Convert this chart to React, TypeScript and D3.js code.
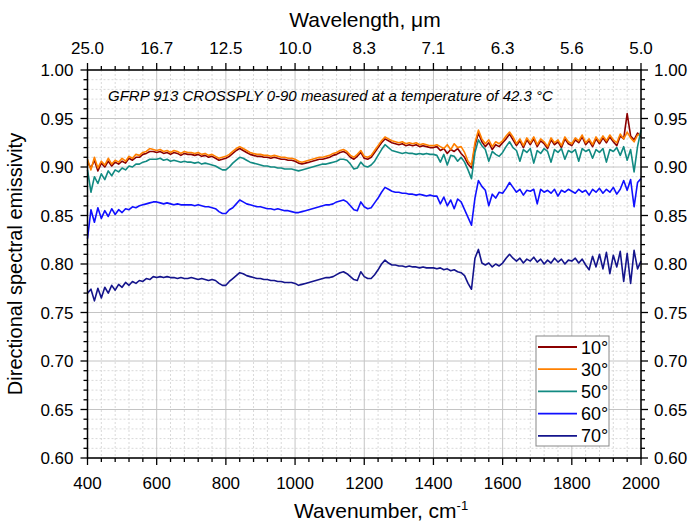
import React, { useEffect, useRef } from "react";
import * as d3 from "d3";

// wavenumber grid, cm-1 (step 10)
const wavenumbers = d3.range(400, 2001, 10);

const deg10 = [
  0.905, 0.899, 0.907, 0.896, 0.904, 0.900, 0.906, 0.901, 0.905, 0.903,
  0.906, 0.904, 0.909, 0.907, 0.910, 0.910, 0.913, 0.914, 0.916, 0.916,
  0.915, 0.916, 0.914, 0.915, 0.913, 0.915, 0.914, 0.912, 0.914, 0.913,
  0.913, 0.912, 0.913, 0.911, 0.912, 0.910, 0.911, 0.909, 0.907, 0.908,
  0.909, 0.911, 0.914, 0.917, 0.919, 0.917, 0.915, 0.913, 0.912, 0.911,
  0.911, 0.910, 0.910, 0.909, 0.910, 0.909, 0.908, 0.908, 0.907, 0.907,
  0.906, 0.904, 0.903, 0.904, 0.905, 0.906, 0.907, 0.908, 0.908, 0.909,
  0.910, 0.912, 0.913, 0.915, 0.916, 0.914, 0.910, 0.908, 0.911, 0.915,
  0.909, 0.908, 0.910, 0.915, 0.920, 0.925, 0.929, 0.927, 0.925, 0.924,
  0.923, 0.924, 0.922, 0.923, 0.922, 0.923, 0.921, 0.922, 0.921, 0.920,
  0.920, 0.921, 0.917, 0.919, 0.914, 0.918, 0.916, 0.919, 0.914, 0.910,
  0.903, 0.899, 0.922, 0.935, 0.926, 0.921, 0.925, 0.918, 0.923, 0.921,
  0.925, 0.929, 0.934, 0.928, 0.922, 0.927, 0.920, 0.928, 0.923, 0.929,
  0.921, 0.927, 0.924, 0.919, 0.928, 0.923, 0.926, 0.920, 0.929, 0.924,
  0.922, 0.928, 0.925, 0.931, 0.923, 0.927, 0.921, 0.929, 0.924, 0.930,
  0.925, 0.931, 0.926, 0.922, 0.932, 0.929, 0.955, 0.932, 0.928, 0.935,
  0.931,
];

const deg30 = [
  0.908, 0.897, 0.910, 0.899, 0.906, 0.902, 0.909, 0.903, 0.907, 0.905,
  0.909, 0.906, 0.911, 0.909, 0.913, 0.912, 0.915, 0.916, 0.919, 0.918,
  0.917, 0.918, 0.916, 0.917, 0.915, 0.917, 0.916, 0.914, 0.916, 0.915,
  0.915, 0.914, 0.915, 0.913, 0.914, 0.912, 0.913, 0.911, 0.909, 0.910,
  0.911, 0.913, 0.916, 0.919, 0.921, 0.919, 0.917, 0.915, 0.914, 0.913,
  0.913, 0.912, 0.912, 0.911, 0.912, 0.911, 0.910, 0.910, 0.909, 0.909,
  0.908, 0.906, 0.905, 0.906, 0.907, 0.908, 0.909, 0.910, 0.910, 0.911,
  0.912, 0.914, 0.915, 0.917, 0.918, 0.916, 0.912, 0.910, 0.913, 0.917,
  0.911, 0.910, 0.912, 0.917, 0.922, 0.927, 0.931, 0.929, 0.927, 0.926,
  0.925, 0.926, 0.924, 0.925, 0.924, 0.925, 0.923, 0.924, 0.923, 0.922,
  0.922, 0.923, 0.921, 0.919, 0.923, 0.918, 0.924, 0.920, 0.921, 0.915,
  0.906, 0.902, 0.925, 0.938, 0.929, 0.924, 0.928, 0.921, 0.926, 0.924,
  0.927, 0.932, 0.936, 0.931, 0.924, 0.929, 0.922, 0.930, 0.925, 0.931,
  0.923, 0.929, 0.926, 0.921, 0.930, 0.925, 0.928, 0.922, 0.931, 0.926,
  0.924, 0.930, 0.927, 0.933, 0.925, 0.929, 0.923, 0.931, 0.926, 0.932,
  0.927, 0.933, 0.928, 0.925, 0.934, 0.929, 0.936, 0.930, 0.926, 0.933,
  0.934,
];

const deg50 = [
  0.897, 0.874, 0.890, 0.883, 0.893, 0.887, 0.896, 0.891, 0.897, 0.895,
  0.899, 0.897, 0.901, 0.900, 0.903, 0.903, 0.905, 0.906, 0.908, 0.908,
  0.908, 0.909, 0.907, 0.908, 0.906, 0.907, 0.906, 0.905, 0.906, 0.905,
  0.905, 0.904, 0.905, 0.903, 0.904, 0.903, 0.902, 0.901, 0.899, 0.897,
  0.897, 0.900, 0.904, 0.907, 0.910, 0.909, 0.907, 0.905, 0.904, 0.903,
  0.902, 0.901, 0.901, 0.900, 0.900, 0.899, 0.899, 0.898, 0.898, 0.898,
  0.897, 0.896, 0.897, 0.898, 0.899, 0.900, 0.901, 0.902, 0.903, 0.903,
  0.904, 0.905, 0.906, 0.908, 0.908, 0.907, 0.903, 0.898, 0.899, 0.905,
  0.901, 0.900, 0.902, 0.906, 0.912, 0.918, 0.923, 0.920, 0.917, 0.916,
  0.915, 0.914, 0.915, 0.914, 0.914, 0.913, 0.914, 0.913, 0.914, 0.913,
  0.913, 0.912, 0.905, 0.913, 0.902, 0.912, 0.911, 0.906, 0.910, 0.905,
  0.897, 0.888, 0.915, 0.928, 0.922, 0.918, 0.906, 0.916, 0.913, 0.911,
  0.915, 0.921, 0.926, 0.920, 0.917, 0.906, 0.918, 0.915, 0.919, 0.904,
  0.917, 0.914, 0.919, 0.916, 0.905, 0.918, 0.915, 0.919, 0.908, 0.917,
  0.915, 0.918, 0.906, 0.919, 0.916, 0.918, 0.909, 0.918, 0.915, 0.919,
  0.905, 0.918, 0.916, 0.920, 0.912, 0.921, 0.907, 0.918, 0.895, 0.921,
  0.938,
];

const deg60 = [
  0.826, 0.856, 0.843, 0.858, 0.847, 0.855, 0.849, 0.857, 0.851, 0.856,
  0.853, 0.857, 0.856, 0.859, 0.858, 0.860, 0.861, 0.862, 0.863, 0.864,
  0.864, 0.863, 0.862, 0.863, 0.862, 0.861, 0.862, 0.861, 0.861, 0.861,
  0.861, 0.860, 0.861, 0.860, 0.859, 0.859, 0.858, 0.857, 0.854, 0.852,
  0.852, 0.856, 0.858, 0.862, 0.866, 0.864, 0.862, 0.861, 0.860, 0.859,
  0.859, 0.858, 0.857, 0.857, 0.856, 0.857, 0.856, 0.855, 0.855, 0.854,
  0.853, 0.853, 0.854, 0.855, 0.856, 0.857, 0.858, 0.859, 0.860, 0.861,
  0.861, 0.862, 0.864, 0.865, 0.866, 0.864, 0.860, 0.856, 0.855, 0.864,
  0.859, 0.857, 0.858, 0.863, 0.868, 0.874, 0.879, 0.877, 0.875, 0.874,
  0.874, 0.873, 0.873, 0.872, 0.872, 0.871, 0.872, 0.871, 0.870, 0.871,
  0.870, 0.870, 0.862, 0.869, 0.860, 0.866, 0.857, 0.867, 0.864, 0.856,
  0.848, 0.840, 0.868, 0.886, 0.880, 0.876, 0.860, 0.872, 0.868, 0.874,
  0.873, 0.878, 0.884, 0.879, 0.874, 0.877, 0.871, 0.876, 0.875, 0.877,
  0.862, 0.877, 0.874, 0.876, 0.873, 0.877, 0.870, 0.876, 0.874, 0.877,
  0.875, 0.873, 0.877, 0.874, 0.876, 0.871, 0.877, 0.874, 0.878, 0.873,
  0.877, 0.874, 0.879, 0.872, 0.877, 0.886, 0.876, 0.887, 0.859, 0.884,
  0.888,
];

const deg70 = [
  0.770, 0.774, 0.762, 0.775, 0.765, 0.776, 0.770, 0.778, 0.773, 0.779,
  0.776, 0.781, 0.778, 0.782, 0.780, 0.783, 0.782, 0.785, 0.784, 0.787,
  0.786, 0.787, 0.786, 0.787, 0.786, 0.786, 0.785, 0.786, 0.785, 0.785,
  0.786, 0.785, 0.784, 0.785, 0.784, 0.783, 0.784, 0.783, 0.780, 0.778,
  0.778, 0.782, 0.785, 0.788, 0.791, 0.790, 0.788, 0.787, 0.786, 0.785,
  0.785, 0.784, 0.784, 0.783, 0.783, 0.782, 0.782, 0.781, 0.781, 0.781,
  0.780, 0.778, 0.779, 0.780, 0.781, 0.782, 0.783, 0.784, 0.785, 0.786,
  0.786, 0.787, 0.789, 0.791, 0.792, 0.790, 0.787, 0.784, 0.783, 0.792,
  0.787, 0.785, 0.785, 0.789, 0.794, 0.800, 0.804, 0.801, 0.799, 0.799,
  0.798, 0.798, 0.797, 0.798, 0.797, 0.797, 0.796, 0.797, 0.796, 0.796,
  0.796, 0.795, 0.796, 0.794, 0.795, 0.793, 0.794, 0.792, 0.791, 0.788,
  0.780, 0.774, 0.806, 0.815, 0.801, 0.799, 0.801, 0.797, 0.800, 0.798,
  0.801, 0.806, 0.810, 0.806, 0.803, 0.806, 0.801, 0.805, 0.803, 0.807,
  0.802, 0.805, 0.800, 0.804, 0.801, 0.806, 0.802, 0.805, 0.800, 0.804,
  0.803, 0.806, 0.801, 0.805, 0.799, 0.794, 0.808, 0.797, 0.810, 0.795,
  0.812, 0.790, 0.809, 0.797, 0.813, 0.782, 0.811, 0.780, 0.814, 0.795,
  0.803,
];

const seriesNames = ["10°", "30°", "50°", "60°", "70°"];
const seriesColors = ["#8b0000", "#ff8000", "#128a82", "#1010ff", "#14148c"];
const seriesValues = [deg10, deg30, deg50, deg60, deg70];

const xTicks = [400, 600, 800, 1000, 1200, 1400, 1600, 1800, 2000];
const topTickLabels = ["25.0", "16.7", "12.5", "10.0", "8.3", "7.1", "6.3", "5.6", "5.0"];
const yTicks = [0.6, 0.65, 0.7, 0.75, 0.8, 0.85, 0.9, 0.95, 1.0];

const FONT = "'Liberation Sans', Arial, sans-serif";

const App = () => {
  const svgRef = useRef(null);

  useEffect(() => {
    const width = 691;
    const height = 525;
    const left = 87.5, right = 641, top = 70, bottom = 458;

    const svg = d3.select(svgRef.current)
      .attr("width", width)
      .attr("height", height);
    svg.selectAll("*").remove();

    const x = d3.scaleLinear().domain([400, 2000]).range([left, right]);
    const y = d3.scaleLinear().domain([0.6, 1.0]).range([bottom, top]);

    const minorX = d3.range(400, 2001, 40).filter(v => v % 200 !== 0);
    const minorY = d3.range(60, 101, 1).filter(v => v % 5 !== 0).map(v => v / 100);

    // grid
    const grid = svg.append("g");
    grid.selectAll(".mx").data(minorX).enter().append("line")
      .attr("x1", d => x(d)).attr("x2", d => x(d))
      .attr("y1", top).attr("y2", bottom)
      .attr("stroke", "#d9d9d9").attr("stroke-dasharray", "2,2");
    grid.selectAll(".my").data(minorY).enter().append("line")
      .attr("x1", left).attr("x2", right)
      .attr("y1", d => y(d)).attr("y2", d => y(d))
      .attr("stroke", "#d9d9d9").attr("stroke-dasharray", "2,2");
    grid.selectAll(".gx").data(xTicks).enter().append("line")
      .attr("x1", d => x(d)).attr("x2", d => x(d))
      .attr("y1", top).attr("y2", bottom)
      .attr("stroke", "#c4c4c4");
    grid.selectAll(".gy").data(yTicks).enter().append("line")
      .attr("x1", left).attr("x2", right)
      .attr("y1", d => y(d)).attr("y2", d => y(d))
      .attr("stroke", "#c4c4c4");

    // series
    const line = d3.line()
      .x((d, i) => x(wavenumbers[i]))
      .y(d => y(d));
    seriesValues.forEach((vals, i) => {
      svg.append("path")
        .datum(vals)
        .attr("d", line)
        .attr("fill", "none")
        .attr("stroke", seriesColors[i])
        .attr("stroke-width", 1.6)
        .attr("stroke-linejoin", "round");
    });

    // frame
    svg.append("rect")
      .attr("x", left).attr("y", top)
      .attr("width", right - left).attr("height", bottom - top)
      .attr("fill", "none").attr("stroke", "#000").attr("stroke-width", 1.5);

    // ticks
    const ticks = svg.append("g").attr("stroke", "#000").attr("stroke-width", 1.3);
    const tickX = (vals, len) => {
      ticks.selectAll(null).data(vals).enter().append("line")
        .attr("x1", d => x(d)).attr("x2", d => x(d))
        .attr("y1", bottom).attr("y2", bottom + len);
      ticks.selectAll(null).data(vals).enter().append("line")
        .attr("x1", d => x(d)).attr("x2", d => x(d))
        .attr("y1", top).attr("y2", top - len);
    };
    const tickY = (vals, len) => {
      ticks.selectAll(null).data(vals).enter().append("line")
        .attr("x1", left).attr("x2", left - len)
        .attr("y1", d => y(d)).attr("y2", d => y(d));
      ticks.selectAll(null).data(vals).enter().append("line")
        .attr("x1", right).attr("x2", right + len)
        .attr("y1", d => y(d)).attr("y2", d => y(d));
    };
    tickX(xTicks, 7);
    tickX(minorX, 4);
    tickY(yTicks, 7);
    tickY(minorY, 4);

    // tick labels
    const labels = svg.append("g")
      .style("font-family", FONT).style("font-size", "17px").attr("fill", "#000");
    labels.selectAll(null).data(xTicks).enter().append("text")
      .attr("x", d => x(d)).attr("y", bottom + 30.5)
      .attr("text-anchor", "middle").text(d => d);
    labels.selectAll(null).data(xTicks).enter().append("text")
      .attr("x", d => x(d)).attr("y", top - 16)
      .attr("text-anchor", "middle").text((d, i) => topTickLabels[i]);
    labels.selectAll(null).data(yTicks).enter().append("text")
      .attr("x", left - 14).attr("y", d => y(d) + 6)
      .attr("text-anchor", "end").text(d => d3.format(".2f")(d));
    labels.selectAll(null).data(yTicks).enter().append("text")
      .attr("x", right + 13).attr("y", d => y(d) + 6)
      .attr("text-anchor", "start").text(d => d3.format(".2f")(d));

    // axis titles
    svg.append("text")
      .attr("x", 365).attr("y", 27)
      .attr("text-anchor", "middle")
      .style("font-family", FONT).style("font-size", "21px")
      .text("Wavelength, μm");
    const xt = svg.append("text")
      .attr("x", 294).attr("y", 518)
      .attr("text-anchor", "start")
      .style("font-family", FONT).style("font-size", "21px");
    xt.append("tspan").text("Wavenumber, cm");
    xt.append("tspan").attr("dy", -8).style("font-size", "13px").text("-1");
    svg.append("text")
      .attr("transform", `translate(22,${(top + bottom) / 2}) rotate(-90)`)
      .attr("text-anchor", "middle")
      .style("font-family", FONT).style("font-size", "20px")
      .text("Directional spectral emissivity");

    // annotation
    svg.append("text")
      .attr("x", 108).attr("y", 101)
      .style("font-family", FONT).style("font-size", "15px").style("font-style", "italic")
      .text("GFRP 913 CROSSPLY 0-90 measured at a temperature of 42.3 °C");

    // legend
    const lg = svg.append("g").attr("transform", "translate(536,336)");
    lg.append("rect")
      .attr("width", 73).attr("height", 110)
      .attr("fill", "#fff").attr("stroke", "#888").attr("stroke-width", 1);
    seriesNames.forEach((name, i) => {
      const ry = 11 + i * 22.2;
      lg.append("line")
        .attr("x1", 2).attr("x2", 41)
        .attr("y1", ry).attr("y2", ry)
        .attr("stroke", seriesColors[i]).attr("stroke-width", 1.8);
      lg.append("text")
        .attr("x", 45).attr("y", ry + 6.5)
        .style("font-family", FONT).style("font-size", "18px")
        .text(name);
    });
  }, []);

  return (
    <div style={{ position: "absolute", left: 0, top: 0 }}>
      <svg ref={svgRef}></svg>
    </div>
  );
};

export default App;
